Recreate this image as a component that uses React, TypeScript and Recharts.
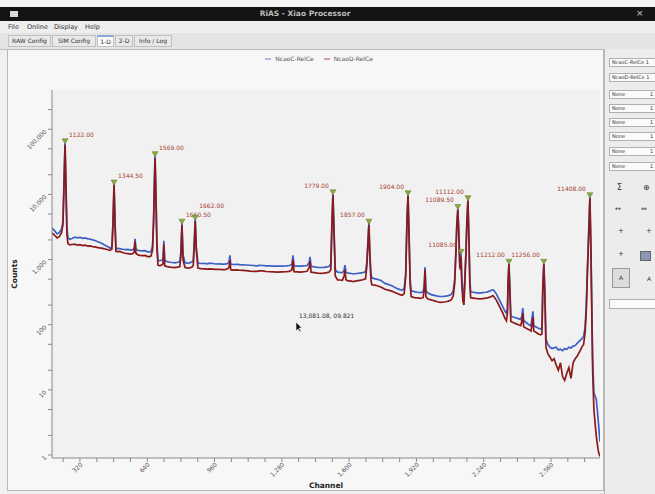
import React from 'react';
import {
  ComposedChart, Line, XAxis, YAxis, CartesianGrid, Legend, ReferenceDot,
} from 'recharts';

// ---- data ----
const channels = [
  187, 198, 211, 222, 232, 239, 244, 249, 254, 258, 263, 272, 282, 296, 308, 320, 333, 344, 358, 370,
  381, 391, 405, 420, 433, 445, 455, 463, 472, 477, 482, 487, 491, 500, 510, 522, 535, 548, 560, 572,
  578, 582, 586, 596, 605, 617, 629, 640, 650, 658, 665, 670, 674, 677, 681, 686, 691, 700, 710, 715,
  719, 723, 735, 748, 760, 772, 785, 795, 800, 805, 810, 819, 830, 842, 853, 859, 864, 868, 873, 881,
  895, 910, 925, 938, 952, 966, 980, 995, 1010, 1022, 1029, 1033, 1037, 1050, 1065, 1080, 1095, 1110, 1128, 1145,
  1160, 1175, 1190, 1205, 1223, 1240, 1260, 1280, 1300, 1315, 1328, 1333, 1338, 1352, 1370, 1385, 1400, 1410, 1414, 1419,
  1435, 1450, 1465, 1480, 1495, 1505, 1513, 1518, 1523, 1528, 1534, 1545, 1557, 1568, 1576, 1580, 1585, 1595, 1610, 1620,
  1635, 1651, 1665, 1678, 1684, 1689, 1694, 1699, 1704, 1708, 1720, 1730, 1740, 1750, 1760, 1770, 1785, 1800, 1810, 1820,
  1832, 1842, 1852, 1862, 1869, 1875, 1880, 1885, 1890, 1895, 1910, 1925, 1940, 1952, 1957, 1961, 1965, 1975, 1990, 2000,
  2010, 2020, 2032, 2045, 2060, 2072, 2085, 2095, 2102, 2108, 2112, 2117, 2122, 2126, 2129, 2132, 2136, 2141, 2146, 2151,
  2156, 2160, 2165, 2170, 2174, 2178, 2190, 2200, 2212, 2222, 2235, 2250, 2262, 2274, 2284, 2293, 2302, 2312, 2322, 2332,
  2341, 2348, 2353, 2356, 2360, 2364, 2369, 2380, 2392, 2405, 2416, 2422, 2426, 2430, 2442, 2455, 2465, 2470, 2474, 2478,
  2490, 2500, 2510, 2517, 2521, 2526, 2531, 2536, 2545, 2555, 2565, 2575, 2585, 2595, 2605, 2615, 2625, 2635, 2645, 2655,
  2665, 2675, 2685, 2695, 2705, 2715, 2722, 2728, 2733, 2738, 2745, 2750, 2754, 2758, 2764, 2770, 2775, 2780, 2786, 2793,
];

const blueCounts = [
  3040, 2800, 2470, 2600, 2900, 3800, 15000, 62000, 12000, 3000, 2150, 2050, 2100, 2200, 2150, 2180, 2120, 2150, 2080, 2060,
  2000, 1960, 1880, 1800, 1700, 1620, 1560, 1480, 1600, 3800, 14400, 3600, 1450, 1480, 1470, 1440, 1420, 1430, 1400, 1420,
  1500, 2080, 1450, 1380, 1370, 1360, 1370, 1320, 1300, 1330, 1600, 4000, 16000, 39300, 12000, 1800, 973, 960, 980, 1020,
  1940, 960, 930, 908, 900, 890, 910, 930, 1300, 3620, 1200, 900, 880, 890, 920, 980, 2000, 4150, 1600, 880,
  870, 875, 860, 880, 870, 855, 860, 850, 850, 870, 920, 1160, 850, 840, 845, 835, 830, 825, 818, 810,
  800, 815, 810, 800, 800, 795, 790, 795, 800, 810, 840, 1160, 800, 795, 790, 800, 810, 900, 1100, 790,
  770, 760, 755, 760, 770, 790, 850, 3500, 10200, 3000, 700, 642, 635, 630, 680, 818, 640, 620, 610, 600,
  610, 620, 630, 650, 900, 1800, 3620, 1200, 600, 522, 510, 500, 490, 480, 455, 430, 415, 400, 385, 370,
  355, 345, 340, 360, 600, 4000, 9870, 2500, 500, 330, 322, 315, 311, 320, 400, 764, 330, 305, 290, 285,
  280, 275, 271, 272, 275, 280, 290, 330, 500, 1500, 3500, 6080, 2500, 900, 800, 1240, 500, 300, 260, 600,
  1500, 4000, 8300, 2000, 500, 320, 315, 311, 308, 305, 310, 315, 322, 335, 345, 320, 290, 250, 215, 185,
  160, 150, 180, 500, 877, 400, 135, 131, 128, 124, 120, 140, 180, 116, 108, 100, 96, 130, 160, 95,
  92, 88, 86, 90, 400, 877, 300, 60, 50, 45, 43, 44, 45, 41, 42, 40, 43, 42, 45, 44,
  47, 48, 52, 56, 60, 66, 90, 200, 700, 2000, 9200, 1500, 200, 30, 9, 8, 7.2, 5, 3, 1.6,
];

const redCounts = [
  2560, 2380, 2150, 2250, 2550, 3400, 13000, 58000, 10000, 2400, 1750, 1680, 1700, 1720, 1660, 1690, 1640, 1660, 1610, 1620,
  1570, 1560, 1520, 1500, 1470, 1440, 1400, 1380, 1450, 3400, 14000, 3200, 1330, 1320, 1330, 1280, 1250, 1230, 1210, 1240,
  1300, 1900, 1250, 1180, 1160, 1150, 1160, 1120, 1100, 1140, 1400, 3600, 14000, 36000, 10000, 1500, 818, 800, 830, 860,
  1700, 800, 780, 764, 760, 750, 765, 780, 1150, 3400, 1000, 760, 740, 745, 770, 820, 1800, 3900, 1400, 740,
  725, 720, 715, 720, 715, 705, 710, 700, 700, 720, 760, 1000, 700, 690, 695, 685, 680, 675, 665, 660,
  660, 670, 670, 655, 650, 645, 640, 645, 650, 660, 690, 1000, 650, 645, 640, 650, 660, 760, 950, 640,
  630, 620, 615, 620, 630, 645, 700, 3200, 9800, 2700, 560, 487, 485, 480, 560, 700, 490, 470, 465, 460,
  470, 480, 490, 505, 780, 1600, 3400, 1000, 480, 410, 405, 400, 390, 380, 365, 350, 340, 330, 320, 310,
  298, 290, 283, 300, 550, 3700, 9500, 2200, 420, 270, 261, 258, 253, 262, 340, 700, 270, 248, 240, 235,
  230, 225, 220, 222, 225, 230, 240, 275, 430, 1300, 3200, 5800, 2200, 780, 700, 1100, 420, 230, 200, 500,
  1300, 3600, 8000, 1800, 420, 260, 256, 253, 251, 250, 252, 255, 260, 268, 280, 258, 232, 200, 172, 148,
  125, 115, 150, 450, 850, 350, 112, 108, 104, 100, 97, 115, 150, 93, 88, 84, 80, 105, 130, 80,
  76, 72, 70, 72, 350, 850, 260, 45, 36, 32, 28, 30, 24, 20, 26, 16, 14, 18, 22, 15,
  26, 30, 33, 38, 44, 50, 75, 170, 600, 1800, 8800, 1200, 150, 20, 5, 3, 2, 1.5, 1.1, 0.95,
];

const peakChannels = [249, 482, 677, 805, 868, 1523, 1694, 1880, 2117, 2132, 2165, 2360, 2526, 2745];
const peakCounts = [62000, 14400, 39300, 3620, 4150, 10200, 3620, 9870, 6080, 1240, 8300, 877, 877, 9200];
const peakLabels = [
  '1122.00', '1344.50', '1569.00', '1660.50', '1662.00', '1779.00', '1857.00',
  '1904.00', '11089.50', '11085.00', '11112.00', '11212.00', '11256.00', '11408.00',
];

const xTicks = [
  240, 320, 400, 480, 560, 640, 720, 800, 880, 960, 1040, 1120, 1200, 1280, 1360, 1440, 1520, 1600,
  1680, 1760, 1840, 1920, 2000, 2080, 2160, 2240, 2320, 2400, 2480, 2560, 2640, 2720,
];
const yTicks = [1, 2, 5, 10, 20, 50, 100, 200, 500, 1000, 2000, 5000, 10000, 20000, 50000, 100000, 200000];

const seriesNames = ['NcaoC-RelCe', 'NcaoD-RelCe'];
const readout = '13,081.08, 09.821';

const rows = channels.map((ch, i) => ({ ch, blue: blueCounts[i], red: redCounts[i] }));
// a label is lifted when the previous peak is close and of similar height (so the two labels don't collide)
const peaks = peakChannels.map((ch, i) => {
  const crowded =
    i > 0 && ch - peakChannels[i - 1] < 80 &&
    peakCounts[i] / peakCounts[i - 1] > 0.5 && peakCounts[i] / peakCounts[i - 1] < 2;
  return { ch, count: peakCounts[i], label: peakLabels[i], lift: crowded ? 5 : 0 };
});

const FONT = '"DejaVu Sans", Verdana, sans-serif';

const isPow10 = (v: number) => Math.abs(Math.log10(v) - Math.round(Math.log10(v))) < 1e-9;

const XTick = (p: any) => {
  const { x, y, payload } = p;
  const v = payload.value;
  if (v % 320 !== 0) return <g />;
  const ax = x + 3;
  const ay = y + 2;
  return (
    <text x={ax} y={ay} transform={`rotate(-45 ${ax} ${ay})`} textAnchor="end" fontSize={6} fill="#555" fontFamily={FONT}>
      {v.toLocaleString('en-US')}
    </text>
  );
};

const YTick = (p: any) => {
  const { x, y, payload } = p;
  const v = payload.value;
  if (!isPow10(v)) return <g />;
  const ax = x;
  const ay = y + 3;
  return (
    <text x={ax} y={ay} transform={`rotate(-45 ${ax} ${ay})`} textAnchor="end" fontSize={6} fill="#555" fontFamily={FONT}>
      {v.toLocaleString('en-US')}
    </text>
  );
};

const PeakMark = (label: string, leftSide: boolean, lift: number) => (p: any) => {
  const { cx, cy } = p;
  if (cx == null || cy == null) return <g />;
  return (
    <g>
      <polygon points={`${cx - 3},${cy - 4} ${cx + 3},${cy - 4} ${cx},${cy + 1}`} fill="#8ca646" stroke="#6c8630" strokeWidth={0.6} />
      <text
        x={leftSide ? cx - 4 : cx + 4}
        y={cy - 6 - lift}
        textAnchor={leftSide ? 'end' : 'start'}
        fontSize={6}
        fill="#a8402e"
        fontFamily={FONT}
      >
        {label}
      </text>
    </g>
  );
};

const menuItems = ['File', 'Online', 'Display', 'Help'];
const menuX = [8, 27, 54, 85];
const tabs = ['RAW Config', 'SIM Config', '1-D', '2-D', 'Info / Log'];
const tabX = [8, 52, 97, 115, 134];
const tabW = [43, 44, 17, 18, 38];
const rightFields = ['NcaoC-RelCe 1', 'NcaoD-RelCe 1'];
const noneRows = [90, 104, 118, 132, 147, 162];

export default function App() {
  return (
    <div style={{ position: 'fixed', left: 0, top: 0, width: 655, height: 494, background: '#f0f0f0', fontFamily: FONT, overflow: 'hidden' }}>
      {/* title bar */}
      <div style={{ position: 'absolute', left: 0, top: 0, width: 655, height: 7, background: '#f4f4f4' }} />
      <div style={{ position: 'absolute', left: 0, top: 7, width: 655, height: 14, background: '#141414' }}>
        <div style={{ position: 'absolute', left: 10, top: 4, width: 8, height: 6, background: '#d8d8d8' }} />
        <div style={{ position: 'absolute', left: 250, width: 110, top: 2, textAlign: 'center', color: '#bdbdbd', fontSize: 7.5, fontWeight: 'bold' }}>RiAS - Xiao Processor</div>
        <div style={{ position: 'absolute', left: 636, top: 1, color: '#cfcfcf', fontSize: 9 }}>×</div>
      </div>
      {/* menu bar */}
      <div style={{ position: 'absolute', left: 0, top: 21, width: 655, height: 12, background: '#eeeeee' }}>
        {menuItems.map((m, i) => (
          <div key={m} style={{ position: 'absolute', left: menuX[i], top: 2, fontSize: 6.5, color: '#333' }}>{m}</div>
        ))}
      </div>
      {/* tabs */}
      <div style={{ position: 'absolute', left: 0, top: 33, width: 655, height: 16, background: '#e4e4e4', borderBottom: '1px solid #bdbdbd' }}>
        {tabs.map((t, i) => (
          <div
            key={t}
            style={{
              position: 'absolute', left: tabX[i], top: 2, width: tabW[i], height: 12,
              background: i === 2 ? '#fafafa' : '#e9e9e9',
              border: '1px solid #c0c0c0', borderTop: i === 2 ? '2px solid #8aa6d6' : '1px solid #c0c0c0',
              boxSizing: 'border-box', fontSize: 6, color: '#333', textAlign: 'center', lineHeight: '10px',
            }}
          >
            {t}
          </div>
        ))}
      </div>
      {/* main pane */}
      <div style={{ position: 'absolute', left: 7, top: 49, width: 597, height: 442, background: '#f7f7f7', border: '1px solid #b8b8b8', boxSizing: 'border-box' }} />
      <div style={{ position: 'absolute', left: 8, top: 49 }}>
        <ComposedChart width={595} height={441} data={rows} margin={{ top: 33, right: 3, left: 0, bottom: 2 }}>
          <CartesianGrid fill="#f1f1f1" stroke="none" horizontal={false} vertical={false} />
          <XAxis
            type="number"
            dataKey="ch"
            domain={[187, 2793]}
            ticks={xTicks}
            allowDataOverflow
            interval={0}
            height={30}
            tickSize={4}
            tickMargin={1}
            tick={XTick}
            stroke="#8a8a8a"
            label={{ value: 'Channel', position: 'insideBottom', offset: 0, style: { fontSize: 7.5, fontWeight: 'bold', fill: '#222', fontFamily: FONT } }}
          />
          <YAxis
            scale="log"
            domain={[0.9, 400000]}
            ticks={yTicks}
            allowDataOverflow
            interval={0}
            width={44}
            tickSize={4}
            tickMargin={1}
            tick={YTick}
            stroke="#8a8a8a"
            label={{ value: 'Counts', angle: -90, position: 'insideLeft', offset: 6, style: { textAnchor: 'middle', fontSize: 7.5, fontWeight: 'bold', fill: '#222', fontFamily: FONT } }}
          />
          <Legend
            verticalAlign="top"
            align="center"
            iconType="plainline"
            iconSize={6}
            wrapperStyle={{ top: 6, left: 20, fontSize: 6, fontFamily: FONT, lineHeight: '8px' }}
            formatter={(v: any) => <span style={{ color: '#555' }}>{v}</span>}
          />
          <Line type="linear" dataKey="blue" name={seriesNames[0]} stroke="#3d60c6" strokeWidth={1.7} dot={false} isAnimationActive={false} />
          <Line type="linear" dataKey="red" name={seriesNames[1]} stroke="#8c1a1a" strokeWidth={1.7} dot={false} isAnimationActive={false} />
          {peaks.map((pk) => (
            <ReferenceDot
              key={pk.ch}
              x={pk.ch}
              y={pk.count}
              r={3}
              ifOverflow="visible"
              shape={PeakMark(pk.label, pk.ch > 1400, pk.lift)}
            />
          ))}
        </ComposedChart>
      </div>
      {/* cursor readout */}
      <div style={{ position: 'absolute', left: 299, top: 312, fontSize: 6, color: '#333' }}>{readout}</div>
      <svg style={{ position: 'absolute', left: 295, top: 321 }} width={8} height={12}>
        <polygon points="1,1 1,10 3,8 5,11 6,10 4,7 7,7" fill="#111" stroke="#fff" strokeWidth={0.6} />
      </svg>
      {/* right panel */}
      <div style={{ position: 'absolute', left: 604, top: 49, width: 51, height: 445, background: '#ececec', borderLeft: '1px solid #b8b8b8' }} />
      {rightFields.map((f, i) => (
        <div key={f} style={{ position: 'absolute', left: 609, top: 58 + i * 15, width: 50, height: 9, background: '#fafafa', border: '1px solid #b0b0b0', boxSizing: 'border-box', fontSize: 5, lineHeight: '7px', paddingLeft: 2, color: '#333', whiteSpace: 'nowrap', overflow: 'hidden' }}>{f}</div>
      ))}
      {noneRows.map((y) => (
        <div key={y} style={{ position: 'absolute', left: 609, top: y, width: 50, height: 9, background: '#fafafa', border: '1px solid #b0b0b0', boxSizing: 'border-box', fontSize: 5, lineHeight: '7px', paddingLeft: 2, color: '#333' }}>
          None<span style={{ position: 'absolute', left: 40 }}>1</span>
        </div>
      ))}
      <div style={{ position: 'absolute', left: 617, top: 183, fontSize: 8, color: '#333' }}>Σ</div>
      <div style={{ position: 'absolute', left: 643, top: 183, fontSize: 8, color: '#333' }}>⊕</div>
      <div style={{ position: 'absolute', left: 615, top: 205, fontSize: 7, color: '#333' }}>↔</div>
      <div style={{ position: 'absolute', left: 641, top: 205, fontSize: 7, color: '#333' }}>⇔</div>
      <div style={{ position: 'absolute', left: 618, top: 227, fontSize: 7, color: '#333' }}>+</div>
      <div style={{ position: 'absolute', left: 646, top: 227, fontSize: 7, color: '#333' }}>+</div>
      <div style={{ position: 'absolute', left: 618, top: 250, fontSize: 7, color: '#333' }}>+</div>
      <div style={{ position: 'absolute', left: 640, top: 251, width: 9, height: 8, background: '#8c96b0', border: '1px solid #666' }} />
      <div style={{ position: 'absolute', left: 612, top: 268, width: 18, height: 20, background: '#dcdcdc', border: '1px solid #999', boxSizing: 'border-box', fontSize: 6, textAlign: 'center', lineHeight: '18px', color: '#333' }}>A</div>
      <div style={{ position: 'absolute', left: 647, top: 275, fontSize: 6, color: '#333' }}>A</div>
      <div style={{ position: 'absolute', left: 609, top: 299, width: 50, height: 10, background: '#fafafa', border: '1px solid #b0b0b0', boxSizing: 'border-box' }} />
    </div>
  );
}
